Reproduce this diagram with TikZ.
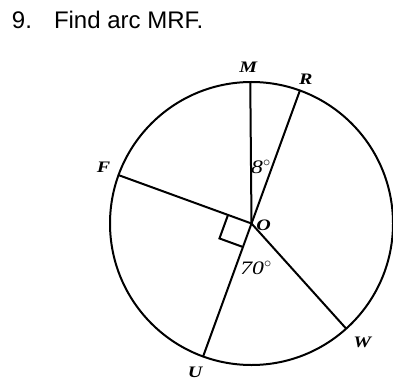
\documentclass[tikz,border=0pt]{standalone}
\usepackage{fontspec}
\newfontfamily\titlefont{Liberation Sans}
\newfontfamily\lblfont{Liberation Serif}
\usepackage{tikz}
\usetikzlibrary{calc}

\newcommand{\wide}[1]{\scalebox{1.25}[1]{#1}}

\begin{document}
\begin{tikzpicture}[x=1pt,y=1pt,line width=2pt,
    lbl/.style={font=\lblfont\fontsize{16}{18}\selectfont\bfseries\itshape, inner sep=0pt},
    ang/.style={font=\lblfont\fontsize{19}{21}\selectfont\itshape, inner sep=0pt}]
  \useasboundingbox (0,0) rectangle (393,386);
  \node[anchor=base west, inner sep=0pt, font=\titlefont\fontsize{24}{28}\selectfont]
    (title) at (11,357) {9.\hspace{22pt}Find arc MRF.};
  % circle and radii
  \def\rad{141.5}
  \coordinate (O) at (251.5,162.5);
  \draw (O) circle (\rad);
  \coordinate (M) at ($(O)+(90.5:\rad)$);
  \coordinate (R) at ($(O)+(70:\rad)$);
  \coordinate (F) at ($(O)+(160:\rad)$);
  \coordinate (U) at ($(O)+(250:\rad)$);
  \coordinate (W) at ($(O)+(312:\rad)$);
  \draw (O) -- (M);
  \draw (R) -- (U);
  \draw (O) -- (F);
  \draw (O) -- (W);
  % right angle mark
  \draw ($(O)+(160:25)$) -- ($(O)+(160:25)+(250:25)$) -- ($(O)+(250:25)$);
  % labels
  \node[lbl] (lM) at ($(M)+(-2,15)$) {\wide{M}};
  \node[lbl] (lR) at ($(R)+(6,11)$) {\wide{R}};
  \node[lbl] (lF) at ($(F)+(-15,8)$) {\wide{F}};
  \node[lbl] (lU) at ($(U)+(-8,-16)$) {\wide{U}};
  \node[lbl] (lW) at ($(W)+(16,-14)$) {\wide{W}};
  \node[lbl] (lO) at ($(O)+(12,-1.5)$) {\wide{O}};
  \node[ang] (a8) at (261,219) {\wide{8}$^\circ$};
  \node[ang] (a70) at (256,118) {\wide{70}$^\circ$};
\end{tikzpicture}
\end{document}
